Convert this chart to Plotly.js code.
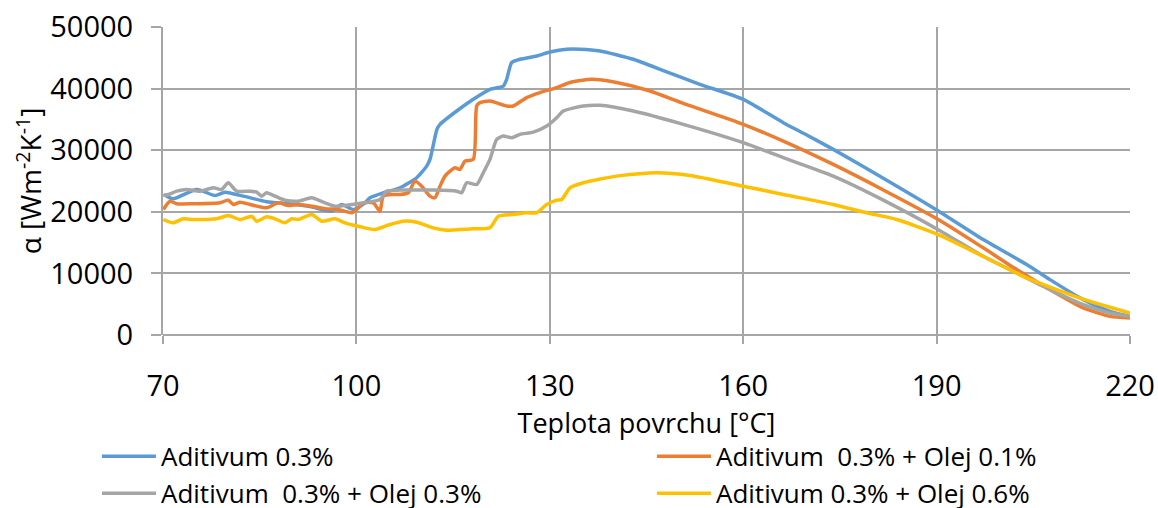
<!DOCTYPE html>
<html>
<head>
<meta charset="utf-8">
<script src="https://cdn.plot.ly/plotly-3.0.1.min.js"></script>
<style>html,body{margin:0;padding:0;background:#fff;}#chart{width:1158px;height:508px;}</style>
</head>
<body>
<div id="chart"></div>
<script>
// Series names
const names = ["Aditivum 0.3%", "Aditivum\u00a0 0.3% + Olej 0.1%", "Aditivum\u00a0 0.3% + Olej 0.3%", "Aditivum 0.3% + Olej 0.6%"];
const colors = ["#5B9BD5", "#ED7D31", "#A5A5A5", "#FFC000"];

// Aditivum 0.3%
const tBlue = [70.16,71.55,75.23,78.07,79.62,82.46,86.08,89.5,93.0,96.17,97.72,99.52,101.33,102.11,104.17,106.76,109.35,110.9,111.41,112.5,112.97,115.56,118.13,120.72,122.78,123.31,124.09,125.38,127.97,130.03,132.62,134.68,137.78,142.95,148.13,153.27,160.01,166.22,170.0,173.97,181.73,190.01,197.23,203.97,207.58,212.75,216.89,219.99];
const aBlue = [22810,22110,23630,22650,23190,22540,21630,21300,20800,20100,21190,20370,21460,22280,23090,23900,25530,27410,28500,33400,34190,36360,38260,39880,40420,41510,44230,44760,45300,45950,46390,46390,46110,44760,42700,40700,38260,34470,32400,30130,25450,20300,15500,11430,8990,5740,3840,3020];

// Aditivum 0.3% + Olej 0.1%
const tOrange = [70.05,71.09,72.13,74.7,78.84,80.13,80.9,81.94,83.49,86.08,87.88,89.44,90.99,93.07,95.13,97.19,99.27,100.04,101.07,102.62,103.66,104.17,105.72,106.76,108.05,109.09,110.13,111.41,112.19,112.97,113.74,114.52,115.3,116.07,116.85,118.13,118.66,119.17,120.72,123.31,124.34,126.41,128.48,131.07,133.13,136.5,140.37,145.54,150.7,160.01,166.22,173.97,181.73,190.26,197.23,202.42,207.58,212.75,216.89,219.99];
const aOrange = [20370,21720,21300,21300,21460,21890,21190,21560,21190,20650,21460,21020,21190,20910,20490,20370,19840,20370,21460,21460,20100,22540,22810,22810,23090,24980,24160,22540,22280,24160,25790,26600,27150,26880,28230,28500,37170,37720,37990,37170,37170,38540,39350,40160,40980,41510,40980,39610,37600,34200,31480,27690,23550,18750,14150,10620,7370,4390,3020,2760];

// Aditivum 0.3% + Olej 0.3%
const tGray = [70.05,70.82,72.13,73.68,75.74,77.8,79.1,80.13,81.43,83.49,84.53,85.31,86.08,87.37,88.92,90.99,93.07,95.13,96.68,99.27,101.33,103.66,104.7,106.76,111.93,115.56,116.33,117.11,118.66,119.68,120.72,121.76,122.78,124.09,125.38,127.44,129.52,131.07,132.1,135.2,137.78,142.95,150.7,160.01,166.22,173.97,181.73,190.26,197.23,202.42,207.58,212.75,216.89,219.99];
const aGray = [22650,22810,23350,23630,23350,23900,23630,24710,23350,23350,23190,22540,23090,22540,21890,21720,22280,21460,20910,21190,21460,22000,23350,23520,23520,23350,23090,24710,24440,26340,28500,31760,32290,32030,32570,32940,33920,35280,36360,37170,37280,36360,34200,31220,28780,25790,21900,17100,12780,10080,7370,4930,3580,3020];

// Aditivum 0.3% + Olej 0.6%
const tYellow = [70.05,71.6,73.15,74.7,78.33,80.13,81.94,83.76,84.53,86.08,87.37,88.92,89.96,90.99,93.07,94.62,96.68,98.23,100.29,102.88,105.21,107.27,109.35,111.93,114.0,116.07,118.13,120.72,122.01,124.34,126.41,127.97,129.52,131.07,131.85,133.13,135.2,140.37,146.58,151.74,160.01,166.22,173.97,179.15,183.8,190.26,197.23,203.44,208.62,213.79,219.99];
const aYellow = [18750,18210,18860,18750,18860,19400,18750,19280,18470,19190,18860,18210,18860,18750,19560,18470,18860,18210,17660,17120,17930,18470,18310,17400,17010,17120,17240,17400,19280,19560,19840,19840,21190,21890,22000,23900,24710,25790,26340,25900,24160,22810,21190,19840,18750,16310,12780,9530,7370,5460,3580];

const xTicks = [70, 100, 130, 160, 190, 220];
const yTicks = [0, 10000, 20000, 30000, 40000, 50000];

const xs = [tBlue, tOrange, tGray, tYellow];
const ys = [aBlue, aOrange, aGray, aYellow];

const traces = xs.map((x, i) => ({
  x: x, y: ys[i], name: names[i], type: "scatter", mode: "lines",
  line: {color: colors[i], width: 3.5, shape: "spline", smoothing: 0.6},
  hoverinfo: "skip"
}));

const font = "'Open Sans', sans-serif";
const layout = {
  width: 1158, height: 508,
  margin: {l: 163, r: 28, t: 27, b: 173, autoexpand: false},
  paper_bgcolor: "#fff", plot_bgcolor: "#fff",
  font: {family: font, color: "#000", size: 26},
  showlegend: true,
  xaxis: {
    range: [70, 220], tickvals: xTicks, ticktext: xTicks.map(String),
    showgrid: true, gridcolor: "#a6a6a6", gridwidth: 2,
    showline: false, zeroline: false,
    ticks: "outside", ticklen: 8, tickcolor: "#a6a6a6", tickwidth: 2,
    ticklabelstandoff: 17,
    tickfont: {family: font, size: 29, color: "#000"},
    title: {text: "Teplota povrchu [°C]", font: {family: font, size: 27, color: "#000"}, standoff: 8}
  },
  yaxis: {
    range: [0, 50000], tickvals: yTicks, ticktext: yTicks.map(String),
    showgrid: true, gridcolor: "#a6a6a6", gridwidth: 2,
    showline: true, linecolor: "#a6a6a6", linewidth: 2,
    zeroline: true, zerolinecolor: "#a6a6a6", zerolinewidth: 2,
    ticks: "outside", ticklen: 10, tickcolor: "#a6a6a6", tickwidth: 2,
    ticklabelstandoff: 12,
    tickfont: {family: font, size: 29, color: "#000"},
    title: {text: "α [Wm<sup>-2</sup>K<sup>-1</sup>]", font: {family: font, size: 28, color: "#000"}, standoff: 0}
  },
  legend: {
    orientation: "h", xref: "paper", yref: "paper",
    x: -0.0683, y: -0.318, xanchor: "left", yanchor: "top",
    entrywidth: 486, entrywidthmode: "pixels",
    font: {family: font, size: 26, color: "#000"},
    bgcolor: "rgba(0,0,0,0)", itemwidth: 54, tracegroupgap: 0
  }
};

Plotly.newPlot("chart", traces, layout, {displayModeBar: false, staticPlot: true});
</script>
</body>
</html>
